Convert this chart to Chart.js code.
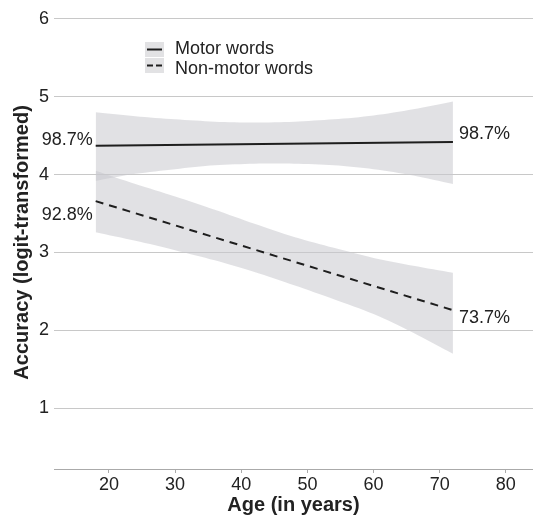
<!DOCTYPE html>
<html>
<head>
<meta charset="utf-8">
<script src="https://cdn.jsdelivr.net/npm/chart.js@4/dist/chart.umd.min.js"></script>
<style>
  html, body { margin: 0; padding: 0; background: #fff; }
  #wrap { width: 533px; height: 519px; }
</style>
</head>
<body>
<div id="wrap"><canvas id="chart"></canvas></div>
<script>
// Data
const lineAges = [18, 72];
const motorFit = [4.37, 4.42];
const nonMotorFit = [3.66, 2.26];

const bandAges = [18, 24, 30, 36, 42, 48, 54, 60, 66, 72];
const motorUpper = [4.80, 4.75, 4.71, 4.68, 4.67, 4.68, 4.71, 4.76, 4.84, 4.94];
const motorLower = [3.92, 4.01, 4.07, 4.12, 4.14, 4.14, 4.12, 4.07, 3.99, 3.88];
const nonMotorUpper = [4.05, 3.88, 3.72, 3.55, 3.37, 3.20, 3.06, 2.93, 2.83, 2.74];
const nonMotorLower = [3.26, 3.15, 3.03, 2.90, 2.75, 2.58, 2.40, 2.21, 1.97, 1.70];

const endLabels = ['98.7%', '98.7%', '92.8%', '73.7%'];
const xTicks = [20, 30, 40, 50, 60, 70, 80];
const yTicks = [1, 2, 3, 4, 5, 6];

const legendNames = ['Motor words', 'Non-motor words'];

const bandColor = 'rgba(200, 200, 205, 0.55)';
const lineColor = '#1e1e1e';
const font = '"Liberation Sans", Arial, sans-serif';

function pts(xs, ys) {
  return xs.map((x, i) => ({ x, y: ys[i] }));
}

// Labels at the ends of the fitted lines
const endLabelPlugin = {
  id: 'endLabels',
  afterDatasetsDraw(chart) {
    const { ctx, scales: { x, y } } = chart;
    const items = [
      { age: lineAges[0], val: motorFit[0], text: endLabels[0], dx: -3, dy: -6, align: 'right' },
      { age: lineAges[1], val: motorFit[1], text: endLabels[1], dx: 6, dy: -8, align: 'left' },
      { age: lineAges[0], val: nonMotorFit[0], text: endLabels[2], dx: -3, dy: 14, align: 'right' },
      { age: lineAges[1], val: nonMotorFit[1], text: endLabels[3], dx: 6, dy: 8, align: 'left' },
    ];
    ctx.save();
    ctx.font = '18px ' + font;
    ctx.fillStyle = '#222';
    ctx.textBaseline = 'middle';
    items.forEach(it => {
      ctx.textAlign = it.align;
      ctx.fillText(it.text, x.getPixelForValue(it.age) + it.dx, y.getPixelForValue(it.val) + it.dy);
    });
    ctx.restore();
  }
};

// Legend: grey key box with a solid / dashed stroke
const legendPlugin = {
  id: 'keyLegend',
  afterDraw(chart) {
    const { ctx } = chart;
    ctx.save();
    legendNames.forEach((name, i) => {
      const top = 42 + i * 16;
      ctx.fillStyle = '#e2e2e4';
      ctx.fillRect(145, top, 19, 15);
      ctx.strokeStyle = lineColor;
      ctx.lineWidth = 2;
      ctx.setLineDash(i === 0 ? [] : [6, 3]);
      ctx.beginPath();
      ctx.moveTo(147, top + 7.5);
      ctx.lineTo(162, top + 7.5);
      ctx.stroke();
      ctx.setLineDash([]);
      ctx.fillStyle = '#222';
      ctx.font = '18px ' + font;
      ctx.textAlign = 'left';
      ctx.textBaseline = 'middle';
      ctx.fillText(name, 175, 49 + i * 20);
    });
    ctx.restore();
  }
};

const ctx = document.getElementById('chart').getContext('2d');
new Chart(ctx, {
  type: 'line',
  data: {
    datasets: [
      { data: pts(bandAges, motorUpper), borderWidth: 0, pointRadius: 0, fill: false, tension: 0.3, order: 2 },
      { data: pts(bandAges, motorLower), borderWidth: 0, pointRadius: 0, fill: '-1', backgroundColor: bandColor, tension: 0.3, order: 2 },
      { data: pts(bandAges, nonMotorUpper), borderWidth: 0, pointRadius: 0, fill: false, tension: 0.3, order: 2 },
      { data: pts(bandAges, nonMotorLower), borderWidth: 0, pointRadius: 0, fill: '-1', backgroundColor: bandColor, tension: 0.3, order: 2 },
      { data: pts(lineAges, motorFit), borderColor: lineColor, borderWidth: 2, pointRadius: 0, fill: false, order: 0 },
      { data: pts(lineAges, nonMotorFit), borderColor: lineColor, borderWidth: 2, borderDash: [8, 6], pointRadius: 0, fill: false, order: 0 },
    ],
  },
  options: {
    responsive: true,
    maintainAspectRatio: false,
    animation: false,
    layout: { padding: { top: 12, right: 0, left: 0, bottom: 0 } },
    plugins: {
      legend: { display: false },
      tooltip: { enabled: false },
    },
    scales: {
      x: {
        type: 'linear',
        min: 11.7,
        max: 84.1,
        afterBuildTicks: s => { s.ticks = xTicks.map(v => ({ value: v })); },
        afterFit: s => { s.height = 50; },
        grid: { drawOnChartArea: false, drawTicks: true, tickLength: 4, color: '#aaa' },
        border: { display: true, color: '#aaa', width: 1 },
        ticks: { color: '#222', font: { family: font, size: 18 }, padding: 1 },
        title: { display: true, text: 'Age (in years)', color: '#222', font: { family: font, size: 20, weight: 'bold' }, padding: { top: 0, bottom: 2 } },
      },
      y: {
        type: 'linear',
        min: 0.22,
        max: 6.04,
        afterBuildTicks: s => { s.ticks = yTicks.map(v => ({ value: v })); },
        afterFit: s => { s.width = 54; },
        grid: { drawTicks: false, color: '#c8c8c8' },
        border: { display: false },
        ticks: { color: '#222', font: { family: font, size: 18 }, padding: 5 },
        title: { display: true, text: 'Accuracy (logit-transformed)', color: '#222', font: { family: font, size: 20, weight: 'bold' }, padding: { top: 10, bottom: 0 } },
      },
    },
  },
  plugins: [endLabelPlugin, legendPlugin],
});
</script>
</body>
</html>
